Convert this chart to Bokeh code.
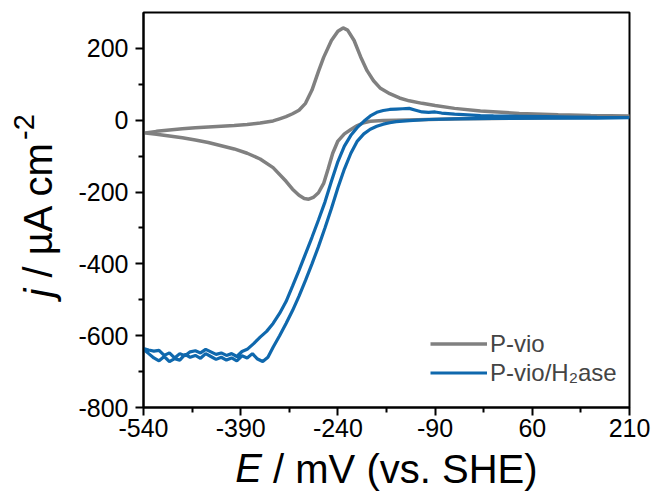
from bokeh.plotting import figure
from bokeh.models import FixedTicker, LinearAxis, Range1d
from bokeh.embed import file_html
from bokeh.resources import INLINE

# ---------------- data ----------------
# P-vio, anodic (upper) branch, E in mV vs SHE, j in uA cm^-2
vio_up_E = [-540, -520, -500, -480, -460, -440, -420, -400, -380, -360, -340, -330, -320,
            -310, -300, -290, -280, -270, -262, -250, -240, -232, -225, -215, -205, -195,
            -185, -175, -160, -145, -130, -110, -90, -60, -20, 40, 100, 150, 210]
vio_up_j = [-36, -31, -27, -24, -21, -19, -17, -15, -12, -8, -2, 4, 10,
            18, 28, 47, 84, 136, 175, 222, 248, 257, 251, 222, 177, 138,
            110, 90, 74, 62, 54, 47, 41, 33, 26, 19, 15, 13, 12]
# P-vio, cathodic (lower) branch
vio_dn_E = [-540, -520, -500, -480, -460, -440, -420, -400, -380, -360, -340, -320, -310,
            -300, -292, -285, -278, -270, -262, -255, -248, -240, -230, -220, -210, -200,
            -190, -170, -150, -100, -50, 0, 100, 210]
vio_dn_j = [-35, -39, -44, -49, -55, -62, -71, -80, -92, -108, -132, -170, -192,
            -209, -218, -220, -215, -202, -176, -135, -92, -58, -38, -26, -15, -7,
            -3, -1, 0, 2, 4, 5, 7, 10]

# P-vio/H2ase, outer branch
h2_a_E = [-540, -532, -524, -516, -508, -500, -492, -484, -476, -468, -460, -452, -444,
          -436, -428, -420, -412, -404, -396, -388, -380, -370, -360, -350, -340, -330,
          -320, -310, -300, -290, -280, -270, -260, -250, -240, -230, -220, -210, -200,
          -190, -180, -170, -160, -150, -140, -130, -120, -110, -100, -90, -80, -60,
          -40, -20, 0, 40, 80, 120, 160, 210]
h2_a_j = [-636, -640, -643, -641, -655, -648, -662, -650, -656, -645, -642, -648, -638,
          -645, -652, -648, -655, -650, -658, -644, -638, -622, -604, -588, -566, -538,
          -505, -462, -418, -372, -326, -278, -228, -170, -115, -72, -42, -20, -3,
          12, 22, 27, 30, 31, 32, 33, 28, 23, 22, 23, 20, 17,
          15, 13, 12, 11, 10, 9, 8, 7]
# P-vio/H2ase, inner branch
h2_b_E = [-540, -532, -524, -516, -508, -500, -492, -484, -476, -468, -460, -452, -444,
          -436, -428, -420, -412, -404, -396, -388, -380, -372, -364, -356, -348, -340,
          -330, -320, -310, -300, -290, -280, -270, -260, -250, -240, -230, -220, -210,
          -200, -190, -180, -170, -160, -150, -130, -100, -60, 0, 80, 160, 210]
h2_b_j = [-638, -650, -662, -670, -658, -672, -664, -668, -652, -660, -655, -663, -650,
          -658, -666, -660, -668, -662, -670, -656, -662, -650, -665, -672, -660, -632,
          -600, -566, -530, -490, -446, -400, -352, -300, -246, -188, -136, -92, -58,
          -38, -25, -17, -11, -7, -4, -1, 2, 4, 5, 6, 6, 7]

x_ticks = [-540, -390, -240, -90, 60, 210]
x_minor = [-465, -315, -165, -15, 135]
y_ticks = [-800, -600, -400, -200, 0, 200]
y_minor = [-700, -500, -300, -100, 100]

series_names = ["P-vio", "P-vio/H\u2082ase"]
series_colors = ["#808080", "#0f68ad"]

x_title = ["E", "/ mV (vs. SHE)"]
y_title = ["j", "/ \u00b5A cm", "-2"]

# ---------------- figure ----------------
FONT = "Liberation Sans"
X0, X1, Y0, Y1 = -540, 210, -800, 300
FW, FH = 486, 395
p = figure(width=660, height=499, output_backend="svg", toolbar_location=None,
           x_range=Range1d(X0, X1), y_range=Range1d(Y0, Y1),
           min_border_left=143, min_border_right=31, min_border_top=12, min_border_bottom=92)
p.background_fill_color = "white"
p.border_fill_color = "white"
p.outline_line_color = "black"
p.outline_line_width = 2
p.xgrid.visible = False
p.ygrid.visible = False

p.xaxis.ticker = FixedTicker(ticks=x_ticks, minor_ticks=x_minor)
p.yaxis.ticker = FixedTicker(ticks=y_ticks, minor_ticks=y_minor)
p.xaxis.major_label_overrides = {t: str(t) for t in x_ticks}
p.yaxis.major_label_overrides = {t: str(t) for t in y_ticks}
for ax in (p.xaxis, p.yaxis):
    ax.axis_line_width = 2
    ax.axis_line_color = "black"
    ax.major_tick_line_width = 2
    ax.minor_tick_line_width = 2
    ax.major_tick_out = 8
    ax.major_tick_in = 0
    ax.minor_tick_out = 5
    ax.minor_tick_in = 0
    ax.major_label_text_font = FONT
    ax.major_label_text_font_size = "25px"
    ax.major_label_text_color = "black"
p.xaxis.major_label_standoff = 3
p.yaxis.major_label_standoff = 7

# closed loops
vio_E = vio_up_E + vio_dn_E[::-1]
vio_j = vio_up_j + vio_dn_j[::-1]
h2_E = h2_a_E + h2_b_E[::-1]
h2_j = h2_a_j + h2_b_j[::-1]

p.line(vio_E, vio_j, line_color=series_colors[0], line_width=3.5, legend_label=series_names[0])
p.line(h2_E, h2_j, line_color=series_colors[1], line_width=3.2, legend_label=series_names[1])

lg = p.legend[0]
lg.location = (287, 20)
lg.border_line_color = None
lg.background_fill_alpha = 0
lg.label_text_font = FONT
lg.label_text_font_size = "24px"
lg.glyph_width = 57
lg.glyph_height = 29
lg.label_height = 29
lg.spacing = 0
lg.padding = 0
lg.margin = 0
lg.label_standoff = 3

# ---------------- axis titles as single-label helper axes (stacked) ----------------
sx = FW / (X1 - X0)   # px per mV
sy = FH / (Y1 - Y0)   # px per uA cm-2
def px_to_x(px):      # canvas px -> data x
    return X0 + (px - 143) / sx
def py_to_y(py):      # canvas px -> data y
    return Y1 - (py - 12) / sy

def title_axis(side, tick, text, size, style, standoff, orient=None):
    ax = LinearAxis(ticker=FixedTicker(ticks=[tick]),
                    major_label_overrides={tick: text})
    ax.axis_line_color = None
    ax.major_tick_line_color = None
    ax.minor_tick_line_color = None
    ax.major_tick_out = 0
    ax.major_tick_in = 0
    ax.minor_tick_out = 0
    ax.minor_tick_in = 0
    ax.major_label_standoff = standoff
    ax.major_label_text_font = FONT
    ax.major_label_text_font_size = f"{size}px"
    ax.major_label_text_font_style = style
    ax.major_label_text_color = "black"
    if orient is not None:
        ax.major_label_orientation = orient
    p.add_layout(ax, side)

TS = 40
SS = 29
H40 = 46   # estimated text-box height of a 40px label
SP = 0.278 * TS
# x title, centred on the frame
w_e, w_r = 0.667 * TS, 6.612 * TS
x_start = 386 - (w_e + SP + w_r) / 2
e_c = x_start + w_e / 2
r_c = x_start + w_e + SP + w_r / 2
title_axis("below", round(px_to_x(e_c)), x_title[0], TS, "italic", 6)
title_axis("below", round(px_to_x(r_c)), x_title[1], TS, "normal", -H40)

# y title, reading bottom to top
w_j, w_m, w_s = 0.222 * TS, 3.41 * TS, 0.889 * SS
y_start = 297
j_c = y_start - w_j / 2
m_c = y_start - w_j - SP - w_m / 2
s_c = y_start - w_j - SP - w_m - 1 - w_s / 2
title_axis("left", round(py_to_y(j_c)), y_title[0], TS, "italic", 14, "vertical")
title_axis("left", round(py_to_y(m_c)), y_title[1], TS, "normal", -H40, "vertical")
title_axis("left", round(py_to_y(s_c)), y_title[2], SS, "normal", -21, "vertical")

open("out.html", "w").write(file_html(p, INLINE))
